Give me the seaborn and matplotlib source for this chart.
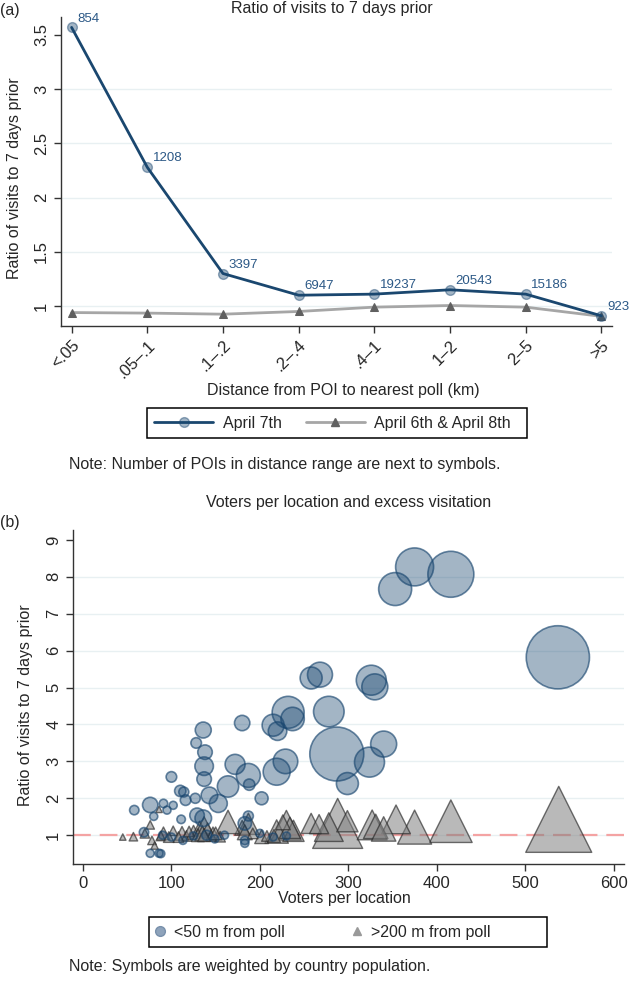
import pandas as pd
import matplotlib
matplotlib.use('Agg')
import matplotlib.pyplot as plt
from matplotlib.lines import Line2D
from matplotlib.patches import Rectangle
import seaborn as sns

# ---- panel (a): ratio of visits by distance bin ----
dist_bins = ['<.05', '.05\u2013.1', '.1\u2013.2', '.2\u2013.4', '.4\u20131', '1\u20132', '2\u20135', '>5']
ratio_apr7 = [3.57, 2.28, 1.30, 1.10, 1.11, 1.15, 1.11, 0.91]
ratio_apr68 = [0.94, 0.935, 0.925, 0.95, 0.99, 1.005, 0.99, 0.905]
n_pois = [854, 1208, 3397, 6947, 19237, 20543, 15186, 923]
yticks_a = [1, 1.5, 2, 2.5, 3, 3.5]

# ---- panel (b): voters per location vs excess visitation ----
# circles: POIs < 50 m from poll (weight ~ county population)
near_voters = [375, 416, 353, 537, 268, 258, 326, 330, 232, 278, 237, 215, 220, 180,
               136, 128, 138, 137, 137, 172, 187, 188, 229, 219, 287, 324, 340, 299,
               164, 202, 100, 110, 114, 116, 127, 143, 153, 76, 91, 102, 95, 58, 80,
               111, 129, 136, 187, 183, 69, 76, 86, 113, 149, 183, 215, 90, 100, 125,
               140, 160, 200, 230, 183, 88]
near_ratio = [8.27, 8.07, 7.67, 5.82, 5.35, 5.26, 5.20, 5.02, 4.33, 4.35, 4.15, 3.98, 3.82,
              4.04, 3.85, 3.50, 3.25, 2.87, 2.52, 2.92, 2.62, 2.37, 3.00, 2.72, 3.20, 2.98,
              3.47, 2.40, 2.32, 2.00, 2.58, 2.20, 2.17, 1.95, 2.00, 2.08, 1.86, 1.82, 1.86,
              1.81, 1.68, 1.68, 1.51, 1.43, 1.54, 1.46, 1.52, 1.32, 1.08, 0.51, 0.51, 0.86,
              0.90, 0.86, 0.95, 1.00, 0.95, 0.98, 1.00, 1.00, 1.05, 0.98, 0.78, 0.50]
near_weight = [361, 529, 272, 1296, 156, 121, 225, 169, 256, 234, 137, 121, 86, 59,
               64, 28, 53, 86, 53, 100, 144, 32, 151, 182, 729, 225, 169, 121,
               114, 42, 28, 32, 25, 28, 25, 69, 81, 59, 18, 16, 16, 22, 16,
               18, 53, 69, 25, 45, 22, 16, 16, 16, 16, 18, 16, 16, 16, 16,
               25, 16, 16, 16, 16, 16]

# triangles: POIs > 200 m from poll
far_voters = [538, 416, 375, 354, 288, 278, 299, 258, 267, 327, 331, 340, 230, 219, 238,
              202, 187, 180, 183, 164, 45, 57, 76, 86, 78, 81, 91, 102, 88, 112, 117,
              125, 132, 137, 141, 147, 155, 192, 70, 97, 108, 130, 135, 145, 208, 216,
              234, 226, 150, 120, 137]
far_ratio = [1.43, 1.38, 1.22, 1.43, 1.32, 1.22, 1.38, 1.32, 1.30, 1.28, 1.24, 1.17, 1.27,
             1.10, 1.12, 0.96, 1.31, 1.20, 1.08, 1.36, 0.95, 0.96, 1.28, 1.70, 0.86, 0.72,
             1.05, 1.12, 0.98, 1.05, 0.98, 1.08, 1.18, 1.27, 1.13, 1.05, 0.96, 1.05, 1.05,
             0.95, 0.95, 1.00, 1.05, 0.98, 0.98, 0.98, 1.20, 1.35, 1.05, 1.10, 1.00]
far_weight = [961, 400, 256, 182, 552, 182, 100, 90, 81, 196, 132, 132, 196, 121, 100,
              42, 100, 49, 49, 121, 9, 16, 16, 9, 16, 12, 36, 20, 20, 42, 25,
              42, 49, 64, 49, 36, 25, 25, 20, 25, 25, 36, 49, 25, 25, 36,
              100, 49, 36, 25, 36]
xticks_b = [0, 100, 200, 300, 400, 500, 600]
yticks_b = [1, 2, 3, 4, 5, 6, 7, 8, 9]

NAVY = '#1a476f'
GRID = '#e8f0f2'
FS = 11.5

sns.set_style('white')
plt.rcParams['font.family'] = ['Liberation Sans', 'DejaVu Sans']

W, H = 630, 981
fig = plt.figure(figsize=(W / 100, H / 100), dpi=100)


def fx(px):
    return px / W


def fy(py):
    return 1 - py / H


def style_axes(ax, yticks):
    for s in ['top', 'right']:
        ax.spines[s].set_visible(False)
    for s in ['left', 'bottom']:
        ax.spines[s].set_color('#333333')
        ax.spines[s].set_linewidth(1.0)
    ax.tick_params(axis='both', length=5, width=1, color='#333333', labelsize=12,
                   direction='out', bottom=True, left=True)
    ax.set_yticks(yticks)
    ax.set_yticklabels([f'{t:g}' for t in yticks], rotation=90, va='center')
    for t in yticks[:-1]:
        ax.axhline(t, color=GRID, lw=1.0, zorder=0)
    ax.set_xlabel('')
    ax.set_ylabel('')


# ---------------- panel (a) ----------------
ax1 = fig.add_axes([fx(61), fy(326), fx(612 - 61), (326 - 17) / H])
sns.lineplot(x=dist_bins, y=ratio_apr68, sort=False, ax=ax1, color='#a6a6a6', lw=2,
             marker='^', markersize=6, markerfacecolor='#606060',
             markeredgecolor='#606060', label='April 6th & April 8th', zorder=2)
sns.lineplot(x=dist_bins, y=ratio_apr7, sort=False, ax=ax1, color=NAVY, lw=2,
             marker='o', markersize=7, markerfacecolor=(0.1, 0.28, 0.44, 0.4),
             markeredgecolor=(0.1, 0.28, 0.44, 0.45), markeredgewidth=1,
             label='April 7th', zorder=3)
for i, (v, n) in enumerate(zip(ratio_apr7, n_pois)):
    ax1.annotate(str(n), (i, v), xytext=(4, 2), textcoords='offset points',
                 ha='left', va='bottom', fontsize=9.5, color='#2b5886')
ax1.set_xlim(-0.14, 7.14)
ax1.set_ylim(0.816, 3.666)
style_axes(ax1, yticks_a)
ax1.set_xticks(range(len(dist_bins)))
ax1.set_xticklabels(dist_bins, rotation=45, ha='right', rotation_mode='anchor')
ax1.get_legend().remove()

fig.text(0.0, fy(10), '(a)', fontsize=FS, va='center', ha='left')
fig.text(fx(332), fy(9), 'Ratio of visits to 7 days prior', fontsize=FS,
         va='center', ha='center')
fig.text(fx(15), fy(178), 'Ratio of visits to 7 days prior', fontsize=FS,
         rotation=90, va='center', ha='center')
fig.text(fx(343), fy(390), 'Distance from POI to nearest poll (km)', fontsize=FS,
         va='center', ha='center')

fig.patches.append(Rectangle((fx(147), fy(438)), fx(527 - 147), (438 - 408) / H,
                             transform=fig.transFigure, fill=False, ec='black', lw=1.1))
h_a = [Line2D([0], [0], color=NAVY, lw=2, marker='o', markersize=7,
              markerfacecolor=(0.1, 0.28, 0.44, 0.4), markeredgecolor=(0.1, 0.28, 0.44, 0.45)),
       Line2D([0], [0], color='#a6a6a6', lw=2, marker='^', markersize=6,
              markerfacecolor='#606060', markeredgecolor='#606060')]
fig.legend(h_a, ['April 7th', 'April 6th & April 8th'], loc='center left',
           bbox_to_anchor=(fx(154), fy(423)), ncol=2, frameon=False, fontsize=FS,
           borderpad=0, borderaxespad=0, handlelength=3.7, handletextpad=0.6,
           columnspacing=1.5)
fig.text(fx(69), fy(464), 'Note: Number of POIs in distance range are next to symbols.',
         fontsize=FS, va='center', ha='left')

# ---------------- panel (b) ----------------
ax2 = fig.add_axes([fx(73), fy(864), fx(624 - 73), (864 - 530) / H])
df_near = pd.DataFrame({'voters': near_voters, 'ratio': near_ratio, 'w': near_weight})
df_far = pd.DataFrame({'voters': far_voters, 'ratio': far_ratio, 'w': far_weight})

ax2.axhline(1, color='#f4a3a3', lw=1.6, ls=(0, (8, 4)), zorder=1)
sns.scatterplot(data=df_far, x='voters', y='ratio', size='w', sizes=(0, 2350),
                size_norm=(0, 1000), marker='^', ax=ax2, legend=False, zorder=2)
ax2.collections[-1].set_facecolor((0.5, 0.5, 0.5, 0.55))
ax2.collections[-1].set_edgecolor((0.15, 0.15, 0.15, 0.65))
ax2.collections[-1].set_linewidth(1.0)
sns.scatterplot(data=df_near, x='voters', y='ratio', size='w', sizes=(0, 2070),
                size_norm=(0, 1000), marker='o', ax=ax2, legend=False, zorder=3)
ax2.collections[-1].set_facecolor((0.1, 0.28, 0.44, 0.4))
ax2.collections[-1].set_edgecolor((0.1, 0.28, 0.44, 0.65))
ax2.collections[-1].set_linewidth(1.2)
ax2.set_xlim(-11.3, 611.8)
ax2.set_ylim(0.22, 9.27)
style_axes(ax2, yticks_b)
ax2.set_xticks(xticks_b)

fig.text(fx(349), fy(503), 'Voters per location and excess visitation', fontsize=FS,
         va='center', ha='center')
fig.text(0.0, fy(522), '(b)', fontsize=FS, va='center', ha='left')
fig.text(fx(26), fy(705), 'Ratio of visits to 7 days prior', fontsize=FS,
         rotation=90, va='center', ha='center')
fig.text(fx(344), fy(898), 'Voters per location', fontsize=FS, va='center', ha='center')

fig.patches.append(Rectangle((fx(149), fy(947)), fx(547 - 149), (947 - 917) / H,
                             transform=fig.transFigure, fill=False, ec='black', lw=1.1))
h_b = [Line2D([0], [0], ls='none', marker='o', markersize=7,
              markerfacecolor='#8ea3bb', markeredgecolor='#7890ab'),
       Line2D([0], [0], ls='none', marker='^', markersize=6,
              markerfacecolor='#999999', markeredgecolor='#999999')]
fig.legend(h_b, ['<50 m from poll', '>200 m from poll'], loc='center left',
           bbox_to_anchor=(fx(152), fy(932)), ncol=2, frameon=False, fontsize=FS,
           borderpad=0, borderaxespad=0, handlelength=1.0, handletextpad=0.4,
           columnspacing=4.0)
fig.text(fx(69), fy(967), 'Note: Symbols are weighted by country population.',
         fontsize=FS, va='center', ha='left')

fig.savefig('out.png', dpi=100)
